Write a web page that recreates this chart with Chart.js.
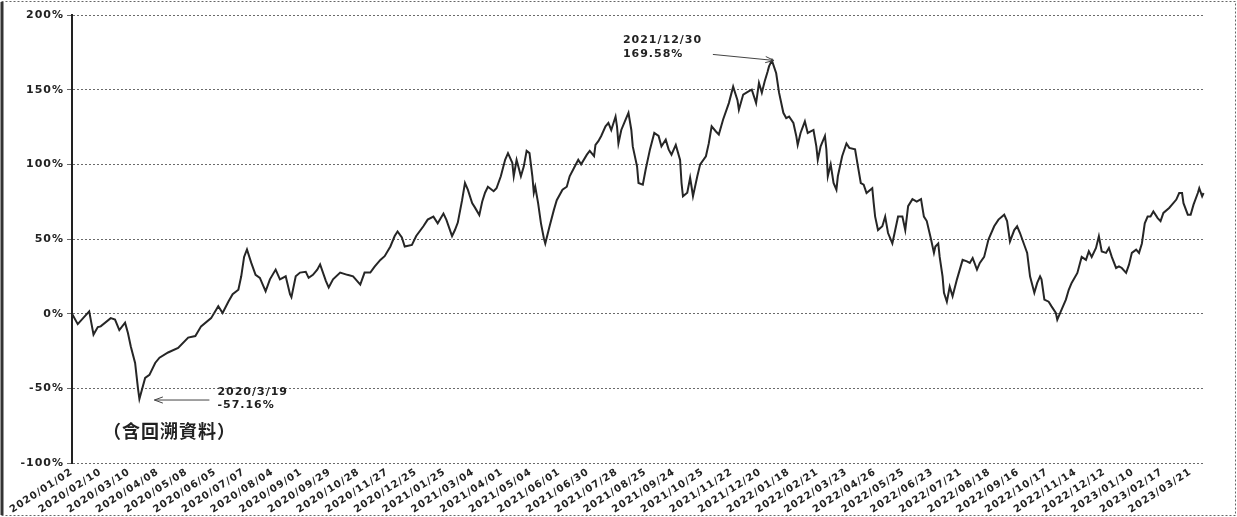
<!DOCTYPE html>
<html>
<head>
<meta charset="utf-8">
<script src="https://cdn.jsdelivr.net/npm/chart.js@4"></script>
<style>
  body { margin: 0; background: #fff; }
  #wrap { width: 1237px; height: 517px; }
</style>
</head>
<body>
<div id="wrap"><canvas id="returnChart"></canvas></div>
<script>
'use strict';

// tick labels on the bottom axis, one every 20 trading days
var tickLabels = [
  '2020/01/02', '2020/02/10', '2020/03/10', '2020/04/08', '2020/05/08', '2020/06/05',
  '2020/07/07', '2020/08/04', '2020/09/01', '2020/09/29', '2020/10/28', '2020/11/27',
  '2020/12/25', '2021/01/25', '2021/03/04', '2021/04/01', '2021/05/04', '2021/06/01',
  '2021/06/30', '2021/07/28', '2021/08/25', '2021/09/24', '2021/10/25', '2021/11/22',
  '2021/12/20', '2022/01/18', '2022/02/21', '2022/03/23', '2022/04/26', '2022/05/25',
  '2022/06/23', '2022/07/21', '2022/08/18', '2022/09/16', '2022/10/17', '2022/11/14',
  '2022/12/12', '2023/01/10', '2023/02/17', '2023/03/21'
];

// trading day number (0 = 2020/01/02) of each point
var days = [
  0, 4, 12, 15, 18, 20, 27, 30, 33, 37, 39, 41, 44, 46, 47, 51, 54, 58, 61, 67,
  74, 81, 86, 90, 97, 102, 105, 109, 112, 116, 118, 120, 122, 125, 128, 131, 133, 135, 138, 142,
  145, 149, 152, 153, 156, 159, 163, 165, 168, 171, 173, 177, 179, 182, 187, 192, 196, 201, 204, 208,
  211, 215, 218, 222, 225, 227, 230, 232, 237, 240, 245, 248, 252, 255, 259, 261, 265, 267, 269, 272,
  274, 276, 279, 281, 284, 286, 288, 290, 294, 296, 299, 302, 304, 307, 308, 310, 313, 315, 317, 319,
  321, 322, 323, 325, 327, 329, 330, 333, 336, 338, 342, 345, 347, 350, 353, 355, 359, 361, 364, 365,
  367, 369, 372, 374, 376, 379, 380, 381, 383, 386, 388, 390, 391, 394, 395, 398, 400, 403, 406, 409,
  411, 414, 416, 418, 421, 424, 425, 426, 429, 431, 432, 433, 436, 438, 442, 444, 446, 449, 451, 454,
  458, 461, 464, 465, 468, 472, 474, 477, 479, 481, 483, 485, 486, 488, 491, 493, 496, 498, 500, 503,
  505, 506, 508, 511, 513, 517, 519, 520, 522, 525, 526, 527, 529, 531, 533, 534, 537, 540, 542, 546,
  548, 550, 552, 554, 558, 559, 560, 562, 565, 567, 569, 572, 574, 576, 579, 581, 583, 586, 589, 592,
  594, 596, 599, 601, 602, 604, 605, 607, 608, 610, 612, 614, 617, 621, 624, 626, 628, 631, 633, 636,
  639, 643, 646, 650, 652, 654, 657, 659, 661, 664, 666, 668, 671, 673, 675, 676, 678, 681, 683, 686,
  687, 690, 693, 695, 697, 701, 704, 707, 709, 711, 714, 716, 718, 721, 723, 725, 728, 730, 732, 735,
  737, 739, 742, 744, 746, 748, 750, 752, 754, 757, 759, 761, 765, 767, 770, 772, 774, 775, 778, 780,
  782, 785, 786, 788, 789
];

// cumulative return in %
var returns = [
  0, -7, 1.5, -14, -9, -8.5, -3, -4, -11, -6, -13, -22, -33, -50, -57.16, -43, -41, -33, -29.5, -26,
  -23, -16, -15, -8.5, -3, 5, 0.5, 8, 13, 16, 25, 38, 43, 34, 26, 24, 19.5, 15, 23, 29.5,
  23, 25, 13, 11, 25, 27.5, 28, 24, 26, 29.5, 33, 22, 17.5, 23, 27.5, 26, 25, 19.5, 27.5, 27.5,
  31.5, 36, 38.5, 45, 52, 55, 51, 45, 46, 52, 58.5, 63, 65, 60.5, 67, 63, 52, 56, 61, 76,
  87.5, 83, 74, 71, 66, 75, 81, 85, 82, 84, 92, 103, 107.5, 101, 92, 103, 92, 98.5, 109, 107.5,
  92, 81, 85, 74, 60.5, 50.5, 47, 58.5, 69.5, 76, 83, 85, 92, 97.5, 103, 100, 106.5, 109, 105.5, 113,
  115.5, 119, 125.5, 127.7, 123, 132, 125.5, 114, 123, 130, 134.5, 123, 112, 98.6, 87.5, 86.4, 96.5, 110, 121, 119,
  112, 116.5, 110, 106.5, 113, 103, 87.5, 78.6, 81, 91, 85, 78.6, 92, 100, 105.4, 114, 125.5, 122, 120, 130,
  141, 152, 143, 136.6, 146.7, 149, 150, 141, 154.5, 148, 155.6, 162, 165.6, 169.58, 161, 148, 134.5, 131, 132, 127.7,
  119, 113, 121, 128.8, 121, 123, 112, 103, 112, 119, 110, 92, 100, 87.5, 83, 92, 105.4, 114, 111, 110,
  98.6, 87.5, 86.4, 80.8, 84, 74, 65, 56, 58.5, 65, 54, 47, 56, 65, 65, 56, 72, 76.7, 75, 76.7,
  65, 62, 49.6, 40.7, 45, 47, 38, 25, 14, 8, 18, 11.6, 22.8, 36, 35, 34, 37.3, 29.5, 34, 38,
  49.6, 58.5, 63, 66.3, 62, 48.4, 56, 58.5, 54, 46, 40.7, 25, 14, 20.6, 25, 23, 9.4, 8, 4.9, 0.5,
  -4, 2.7, 9.4, 16, 20.6, 27.3, 38, 36, 41.7, 38, 44, 51.8, 41.7, 40.7, 44, 38, 30.6, 31.7, 30.6, 27.3,
  32.8, 40.7, 42.9, 40.7, 47, 60.5, 65, 65, 68.4, 64, 62, 67.5, 70.8, 73, 76.4, 80.8, 80.8, 74, 66.3, 66.3,
  73, 80.8, 84, 78.6, 80.8
];

// text for the two marked points
var peakNote = ['2021/12/30', '169.58%'];
var troughNote = ['2020/3/19', '-57.16%'];
var sideNote = '（含回溯資料）';

var lastDay = 790;

// build the points
function makePoints() {
  var pts = [];
  for (var i = 0; i < days.length; i++) {
    pts.push({ x: days[i], y: returns[i] });
  }
  return pts;
}

// find index of highest / lowest value
function findExtreme(wantMax) {
  var best = 0;
  for (var i = 1; i < returns.length; i++) {
    if (wantMax ? returns[i] > returns[best] : returns[i] < returns[best]) {
      best = i;
    }
  }
  return best;
}

function drawArrow(ctx, x1, y1, x2, y2) {
  var ang = Math.atan2(y2 - y1, x2 - x1);
  ctx.beginPath();
  ctx.moveTo(x1, y1);
  ctx.lineTo(x2, y2);
  ctx.moveTo(x2 - 9 * Math.cos(ang - 0.35), y2 - 9 * Math.sin(ang - 0.35));
  ctx.lineTo(x2, y2);
  ctx.lineTo(x2 - 9 * Math.cos(ang + 0.35), y2 - 9 * Math.sin(ang + 0.35));
  ctx.stroke();
}

// the scanned text is spread out, so add a bit of letter spacing
// (canvas resize wipes the ctx state, so set it again before layout and draw)
var spacingPlugin = {
  id: 'spacing',
  beforeLayout: function (chart) { chart.ctx.letterSpacing = '1px'; },
  beforeDraw: function (chart) { chart.ctx.letterSpacing = '1px'; }
};

// frame round the picture plus the notes
var notesPlugin = {
  id: 'notes',
  beforeDraw: function (chart) {
    var ctx = chart.ctx;
    ctx.save();
    ctx.fillStyle = '#fff';
    ctx.fillRect(0, 0, chart.width, chart.height);
    ctx.strokeStyle = '#666';
    ctx.lineWidth = 1;
    ctx.setLineDash([2, 2]);
    ctx.strokeRect(1.5, 1.5, chart.width - 3, chart.height - 3);
    ctx.setLineDash([]);
    ctx.strokeStyle = '#333';
    ctx.lineWidth = 3;
    ctx.beginPath();
    ctx.moveTo(2, 2);
    ctx.lineTo(2, chart.height - 2);
    ctx.stroke();
    ctx.restore();
  },
  afterDatasetsDraw: function (chart) {
    var ctx = chart.ctx;
    var xs = chart.scales.x;
    var ys = chart.scales.y;
    var hi = findExtreme(true);
    var lo = findExtreme(false);
    var px = xs.getPixelForValue(days[hi]);
    var py = ys.getPixelForValue(returns[hi]);
    var tx = xs.getPixelForValue(days[lo]);
    var ty = ys.getPixelForValue(returns[lo]);

    ctx.save();
    ctx.strokeStyle = '#444';
    ctx.lineWidth = 1;
    drawArrow(ctx, px - 59, py - 6, px + 2, py);
    drawArrow(ctx, tx + 70, ty + 1, tx + 15, ty + 1);

    ctx.fillStyle = '#222';
    ctx.font = 'bold 11px "DejaVu Sans"';
    ctx.textAlign = 'left';
    ctx.textBaseline = 'middle';
    ctx.fillText(peakNote[0], px - 149, py - 20);
    ctx.fillText(peakNote[1], px - 149, py - 6);
    ctx.fillText(troughNote[0], tx + 78, ty - 7);
    ctx.fillText(troughNote[1], tx + 78, ty + 6);

    ctx.font = 'bold 18px "Noto Sans CJK TC"';
    ctx.fillText(sideNote, chart.chartArea.left + 31, chart.chartArea.bottom - 32);
    ctx.restore();
  }
};

function makeAChart() {
  var ctx = document.getElementById('returnChart').getContext('2d');
  var chart = new Chart(ctx, {
    type: 'line',
    data: {
      datasets: [
        {
          label: 'return',
          data: makePoints(),
          borderColor: '#262626',
          borderWidth: 2,
          pointRadius: 0,
          tension: 0,
          fill: false
        }
      ]
    },
    options: {
      responsive: true,
      maintainAspectRatio: false,
      animation: false,
      layout: { padding: { left: 6, right: 32, top: 15, bottom: 2 } },
      plugins: {
        legend: { display: false },
        tooltip: { enabled: false }
      },
      scales: {
        x: {
          type: 'linear',
          min: 0,
          max: lastDay,
          border: { display: false },
          grid: { display: false, drawTicks: false },
          afterFit: function (scale) { scale.height = 52; },
          ticks: {
            stepSize: 20,
            autoSkip: false,
            includeBounds: false,
            maxRotation: 33,
            minRotation: 33,
            padding: 3,
            color: '#222',
            font: { family: 'DejaVu Sans', size: 10, weight: 'bold' },
            callback: function (v) {
              if (v % 20 !== 0) { return null; }
              var lab = tickLabels[v / 20];
              return lab === undefined ? null : lab;
            }
          }
        },
        y: {
          min: -100,
          max: 200,
          // border.dash dashes the grid lines, the axis line stays solid
          border: { display: true, color: '#222', width: 2, dash: [2, 2] },
          grid: {
            color: '#6a6a6a',
            lineWidth: 1,
            tickLength: 5
          },
          afterFit: function (scale) { scale.width = 66; },
          ticks: {
            stepSize: 50,
            padding: 3,
            color: '#222',
            font: { family: 'DejaVu Sans', size: 11, weight: 'bold' },
            callback: function (v) { return v + '%'; }
          }
        }
      }
    },
    plugins: [spacingPlugin, notesPlugin]
  });
  return chart;
}

makeAChart();
</script>
</body>
</html>
